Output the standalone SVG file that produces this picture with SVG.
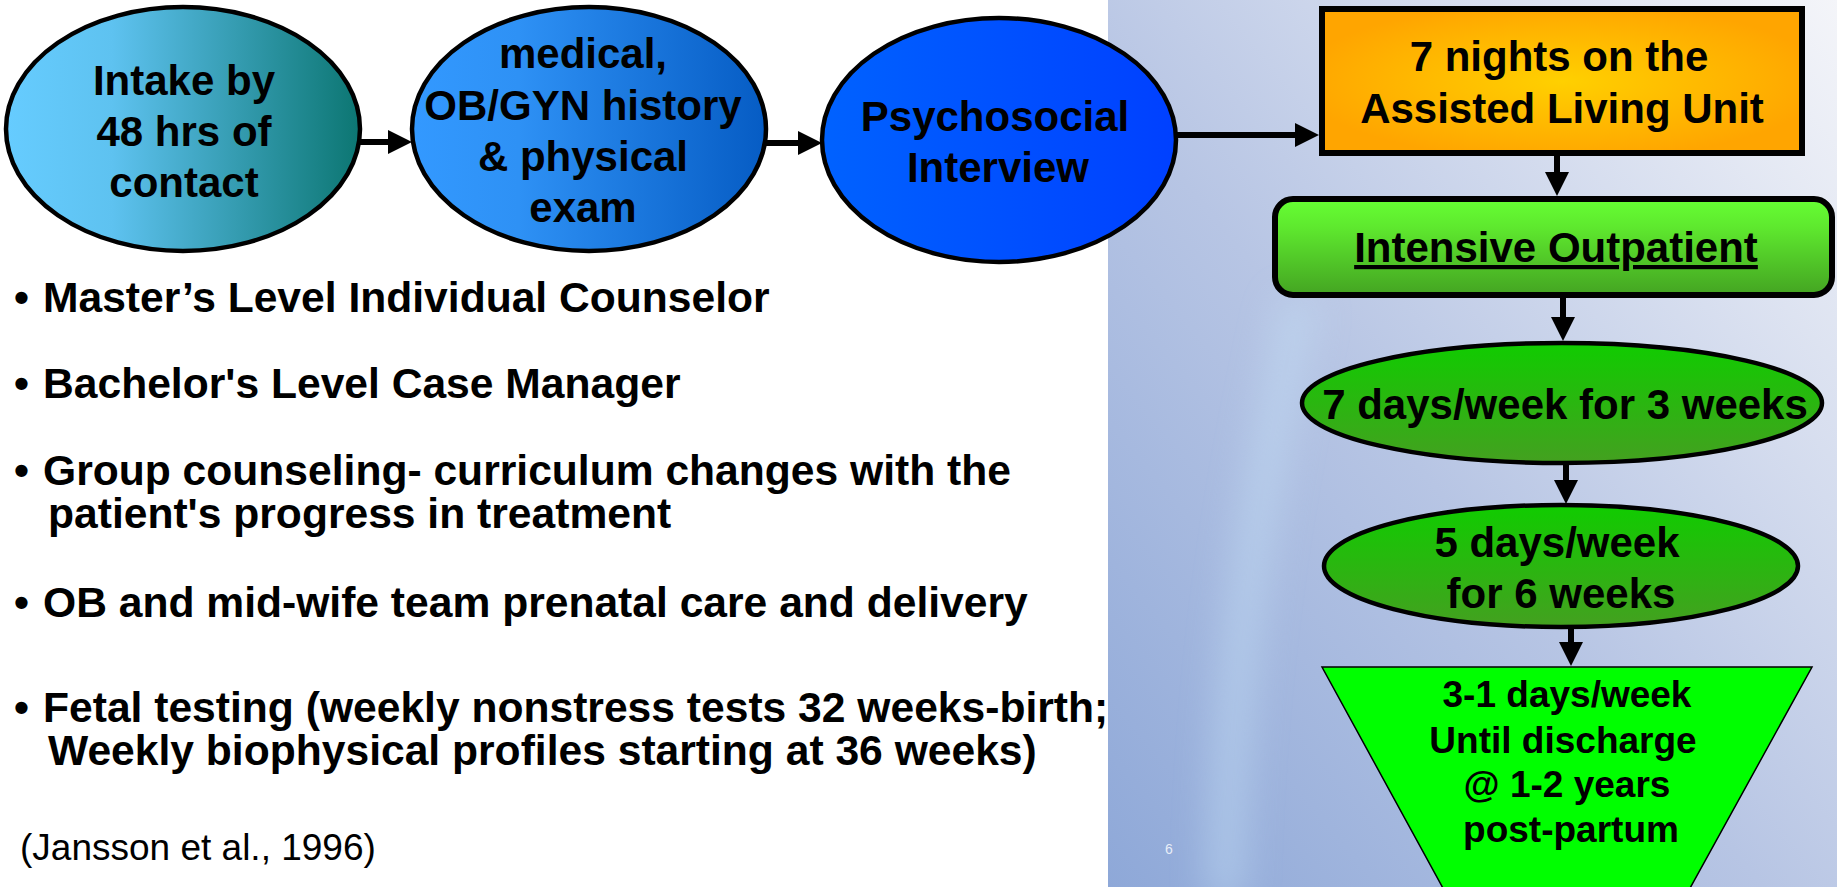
<svg xmlns="http://www.w3.org/2000/svg" width="1837" height="887" viewBox="0 0 1837 887">
<style>
.n{font-family:"Liberation Sans",Arial,sans-serif;font-weight:bold;font-size:42px;fill:#000;text-anchor:middle}
.b{font-family:"Liberation Sans",Arial,sans-serif;font-weight:bold;font-size:42.6px;fill:#000}
.t{font-family:"Liberation Sans",Arial,sans-serif;font-weight:bold;font-size:37px;fill:#000;text-anchor:middle}
.c{fill:none;stroke:#000;stroke-width:6;marker-end:url(#ah)}
.o{stroke:#000;stroke-width:4.5}
</style>
<defs>
<marker id="ah" markerUnits="userSpaceOnUse" markerWidth="24" markerHeight="24" refX="4" refY="12" orient="auto">
<path d="M0,0 L24,12 L0,24 z" fill="#000"/>
</marker>
<linearGradient id="panel" x1="0" y1="1" x2="1" y2="0">
<stop offset="0" stop-color="#8ea8d8"/>
<stop offset="0.45" stop-color="#b7c5e4"/>
<stop offset="1" stop-color="#f4f5f9"/>
</linearGradient>
<linearGradient id="g1" x1="0" y1="0" x2="1" y2="0">
<stop offset="0" stop-color="#66ccff"/>
<stop offset="0.3" stop-color="#5ec2f0"/>
<stop offset="1" stop-color="#0c7672"/>
</linearGradient>
<linearGradient id="g2" x1="0" y1="0" x2="1" y2="0">
<stop offset="0" stop-color="#3399ff"/>
<stop offset="0.3" stop-color="#2e91f5"/>
<stop offset="1" stop-color="#065cc4"/>
</linearGradient>
<linearGradient id="g3" x1="0" y1="0" x2="1" y2="0">
<stop offset="0" stop-color="#0062ff"/>
<stop offset="1" stop-color="#0040ff"/>
</linearGradient>
<radialGradient id="g4" cx="0.5" cy="0.5" r="0.55">
<stop offset="0" stop-color="#ffd000"/>
<stop offset="1" stop-color="#ffa500"/>
</radialGradient>
<linearGradient id="g5" x1="0" y1="0" x2="0" y2="1">
<stop offset="0" stop-color="#66ff33"/>
<stop offset="0.3" stop-color="#5ee82e"/>
<stop offset="1" stop-color="#44a422"/>
</linearGradient>
<linearGradient id="g6" x1="0" y1="0" x2="0" y2="1">
<stop offset="0" stop-color="#10cc00"/>
<stop offset="1" stop-color="#44a020"/>
</linearGradient>
<filter id="blur" filterUnits="userSpaceOnUse" x="1108" y="0" width="729" height="887">
<feGaussianBlur stdDeviation="18"/>
</filter>
<clipPath id="pc"><rect x="1108" y="0" width="729" height="887"/></clipPath>
</defs>

<rect x="0" y="0" width="1837" height="887" fill="#ffffff"/>
<g id="panel-bg" clip-path="url(#pc)">
<rect x="1108" y="0" width="729" height="887" fill="url(#panel)"/>
<path d="M1300,300 C1265,460 1230,640 1225,900" fill="none" stroke="#c4e0f6" stroke-width="34" opacity="0.5" filter="url(#blur)"/>
<text x="1169" y="854" font-family="Liberation Sans,Arial,sans-serif" font-size="14" fill="#e8eef8" text-anchor="middle">6</text>
</g>

<g id="connectors">
<path class="c" d="M360,142 L392,142"/>
<path class="c" d="M766,143 L802,143"/>
<path class="c" d="M1177,135 L1299,135"/>
<path class="c" d="M1557,156 L1557,176"/>
<path class="c" d="M1563,298 L1563,321"/>
<path class="c" d="M1566,463 L1566,484"/>
<path class="c" d="M1571,627 L1571,646"/>
</g>

<g id="intake">
<ellipse class="o" cx="183" cy="129" rx="177" ry="122" fill="url(#g1)"/>
<text class="n" x="184" y="95">Intake by</text>
<text class="n" x="184" y="146">48 hrs of</text>
<text class="n" x="184" y="197">contact</text>
</g>

<g id="medical">
<ellipse class="o" cx="589" cy="129" rx="177" ry="122" fill="url(#g2)"/>
<text class="n" x="583" y="68">medical,</text>
<text class="n" x="583" y="120">OB/GYN history</text>
<text class="n" x="583" y="171">&amp; physical</text>
<text class="n" x="583" y="222">exam</text>
</g>

<g id="psychosocial">
<ellipse class="o" cx="999" cy="140" rx="177" ry="122" fill="url(#g3)"/>
<text class="n" x="995" y="131">Psychosocial</text>
<text class="n" x="998" y="182">Interview</text>
</g>

<g id="assisted-living">
<rect x="1322" y="9" width="480" height="144" fill="url(#g4)" stroke="#000" stroke-width="6"/>
<text class="n" x="1559" y="71">7 nights on the</text>
<text class="n" x="1562" y="123">Assisted Living Unit</text>
</g>

<g id="intensive-outpatient">
<rect x="1275" y="199" width="557" height="96" rx="18" ry="18" fill="url(#g5)" stroke="#000" stroke-width="6"/>
<text class="n" x="1556" y="262" text-decoration="underline">Intensive Outpatient</text>
</g>

<g id="seven-days">
<ellipse class="o" cx="1562" cy="403" rx="260" ry="60" fill="url(#g6)"/>
<text class="n" x="1565" y="419">7 days/week for 3 weeks</text>
</g>

<g id="five-days">
<ellipse class="o" cx="1561" cy="566" rx="237" ry="61" fill="url(#g6)"/>
<text class="n" x="1557" y="557">5 days/week</text>
<text class="n" x="1561" y="608">for 6 weeks</text>
</g>

<g id="three-one-days">
<polygon points="1322,667 1812,667 1689,890 1444,890" fill="#00ff00" stroke="#000" stroke-width="1.5"/>
<text class="t" x="1567" y="707">3-1 days/week</text>
<text class="t" x="1563" y="753">Until discharge</text>
<text class="t" x="1567" y="797">@ 1-2 years</text>
<text class="t" x="1571" y="842">post-partum</text>
</g>

<g id="bullets">
<text class="b" x="14" y="312">•</text>
<text class="b" x="43" y="312">Master’s Level Individual Counselor</text>
<text class="b" x="14" y="398">•</text>
<text class="b" x="43" y="398">Bachelor's Level Case Manager</text>
<text class="b" x="14" y="485">•</text>
<text class="b" x="43" y="485">Group counseling- curriculum changes with the</text>
<text class="b" x="48" y="528">patient's progress in treatment</text>
<text class="b" x="14" y="617">•</text>
<text class="b" x="43" y="617">OB and mid-wife team prenatal care and delivery</text>
<text class="b" x="14" y="722">•</text>
<text class="b" x="43" y="722">Fetal testing (weekly nonstress tests 32 weeks-birth;</text>
<text class="b" x="48" y="765">Weekly biophysical profiles starting at 36 weeks)</text>
<text x="20" y="860" font-family="Liberation Sans,Arial,sans-serif" font-size="37" fill="#000">(Jansson et al., 1996)</text>
</g>
</svg>
